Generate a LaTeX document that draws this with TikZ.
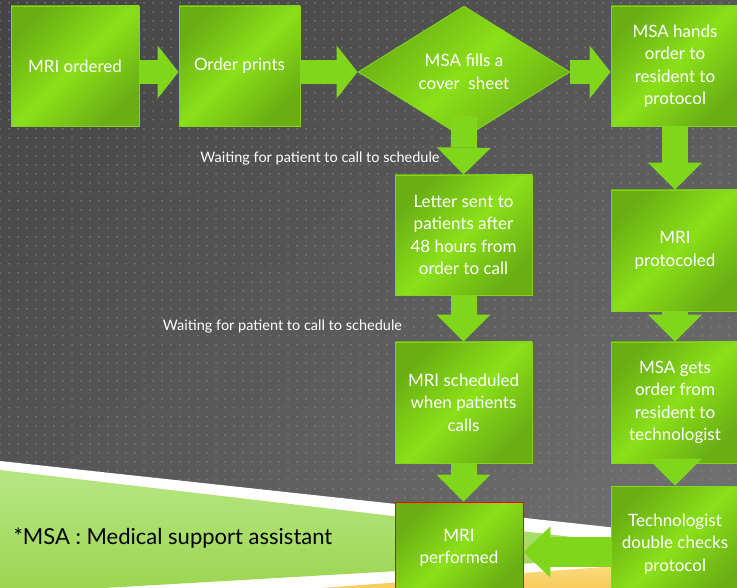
\documentclass[tikz,border=0pt]{standalone}
\usepackage{fontspec}
\setmainfont{Lato}
\usetikzlibrary{arrows.meta, shapes.geometric, patterns.meta, shadings}
\definecolor{bgdark}{HTML}{444444}
\definecolor{bgmid}{HTML}{575757}
\definecolor{bglight}{HTML}{767676}
\definecolor{dotgray}{HTML}{929292}
\definecolor{boxdark}{HTML}{6AAE14}
\definecolor{boxlight}{HTML}{8AE018}
\definecolor{boxedge}{HTML}{84D41E}
\definecolor{arrowgreen}{HTML}{80D61A}
\definecolor{swooshmid}{HTML}{B6E684}
\definecolor{swooshlight}{HTML}{D3F1A6}
\definecolor{swooshdark}{HTML}{9CD550}
\definecolor{sunlight}{HTML}{FDE08A}
\definecolor{sundark}{HTML}{F3BC3A}
\tikzset{>=Triangle}

\begin{document}
\begin{tikzpicture}[x=1pt, y=-1pt,
  box/.style={draw=boxedge, line width=0.8pt, left color=boxdark, right color=boxdark,
    middle color=boxlight, shading angle=45, text=white, align=center, inner sep=0pt,
    font=\fontsize{17}{22.5}\selectfont},
  flow/.style={draw=arrowgreen, line width=24pt, -{Triangle[length=21pt, width=53pt, line width=0pt]}},
  fall/.style={draw=arrowgreen, line width=26pt, -{Triangle[length=27pt, width=54pt, line width=0pt]}},
  back/.style={draw=arrowgreen, line width=30pt, -{Triangle[length=27pt, width=51pt, line width=0pt]}},
  note/.style={text=white, font=\fontsize{14.5}{16}\selectfont}]

	\useasboundingbox (0,0) rectangle (737,588);
	\clip (0,0) rectangle (737,588);
	\shade[upper left=bgdark, upper right=bgmid, lower left=bgmid, lower right=bglight] (0,0) rectangle (737,588);
	\fill[pattern={Dots[distance=9pt, radius=0.75pt]}, pattern color=dotgray] (0,0) rectangle (737,588);
	\fill[white] (0,461) -- (737,541) -- (737,588) -- (0,588) -- cycle;
	\shade[top color=swooshmid, middle color=swooshlight, bottom color=swooshdark] (0,470) -- (709,553) -- (0,594) -- cycle;
	\shade[top color=sunlight, bottom color=sundark] (0,612) -- (737,557) -- (737,588) -- (0,588) -- cycle;

	\node[box, minimum width=128pt, minimum height=120pt] (B0) at (75,66) {MRI ordered};
	\node[box, minimum width=121pt, minimum height=120pt] (B1) at (239.5,66) {Order prints};
	\node[box, diamond, aspect=1.6, minimum width=212pt, minimum height=132pt] (B2) at (464,72) {MSA fills a\\cover\ \ sheet};
	\node[box, minimum width=128pt, minimum height=120pt] (B3) at (675,66) {MSA hands\\order to\\resident to\\protocol};
	\node[box, minimum width=128pt, minimum height=121pt] (B4) at (675,250.5) {MRI\\protocoled};
	\node[box, minimum width=128pt, minimum height=121pt] (B5) at (675,402.5) {MSA gets\\order from\\resident to\\technologist};
	\node[box, minimum width=128pt, minimum height=116pt] (B6) at (675,544) {Technologist\\double checks\\protocol};
	\node[box, draw=red, minimum width=128pt, minimum height=92pt] (B7) at (459,548) {MRI\\performed};
	\node[box, minimum width=137pt, minimum height=121pt] (B8) at (463.5,402.5) {MRI scheduled\\when patients\\calls};
	\node[box, minimum width=137pt, minimum height=120pt] (B9) at (463.5,235) {Letter sent to\\patients after\\48 hours from\\order to call};

	\node[note] (L0) at (320,158) {Waiting for patient to call to schedule};
	\node[note] (L1) at (282.5,326) {Waiting for patient to call to schedule};
	\node[anchor=west, font=\fontsize{22}{26}\selectfont] (F0) at (10,538) {*MSA : Medical support assistant};

	\draw[flow] ([yshift=-6pt]B0.east) -- ([yshift=-6pt]B1.west);
	\draw[flow] ([yshift=-6pt]B1.east) -- (B2.west);
	\draw[flow] (B2.east) -- ([yshift=-6pt]B3.west);
	\draw[fall, shorten <=-22pt] (B2.south) -- (B9.north);
	\draw[fall] (B9.south) -- (B8.north);
	\draw[fall] (B8.south) -- (B8.south |- B7.north);
	\draw[fall] (B3.south) -- (B4.north);
	\draw[fall] (B4.south) -- (B5.north);
	\draw[fall] (B5.south) -- (B6.north);
	\draw[back] ([yshift=-4pt]B7.east -| B6.west) -- ([yshift=-4pt]B7.east);
\end{tikzpicture}
\end{document}
